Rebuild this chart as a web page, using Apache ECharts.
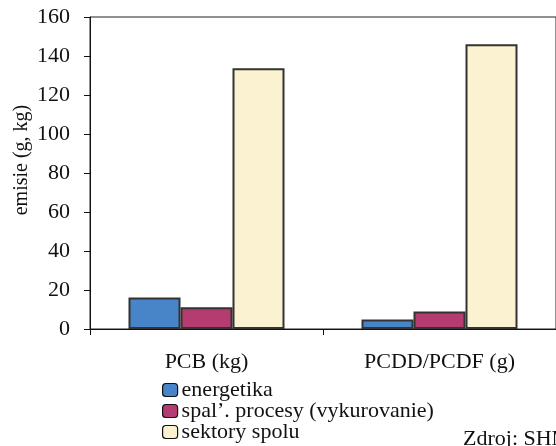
<!DOCTYPE html>
<html>
<head>
<meta charset="utf-8">
<script src="https://cdn.jsdelivr.net/npm/echarts@6/dist/echarts.min.js"></script>
<style>
html,body{margin:0;padding:0;background:#fff;}
#c{width:556px;height:446px;}
</style>
</head>
<body>
<div id="c"></div>
<script>
const categories = ['PCB (kg)', 'PCDD/PCDF (g)'];
const seriesNames = ['energetika', 'spal\u2019. procesy (vykurovanie)', 'sektory spolu'];
const energetika = [16.2, 4.9];
const spalProcesy = [11.1, 9.0];
const sektorySpolu = [133.7, 146.0];
const yTicks = [0, 20, 40, 60, 80, 100, 120, 140, 160];
const colors = ['#4785c8', '#b43c71', '#faf2d0'];
const yTitle = 'emisie (g, kg)';
const sourceText = 'Zdroj: SHMÚ';

const FONT = "'Liberation Serif', 'Times New Roman', serif";
const chart = echarts.init(document.getElementById('c'));
const values = [energetika, spalProcesy, sektorySpolu];
const legendTops = [379, 400, 421];

chart.setOption({
  animation: false,
  textStyle: { fontFamily: FONT, color: '#111' },
  grid: {
    left: 90, right: 0, top: 17, bottom: 117,
    outerBoundsMode: 'none', containLabel: false,
    show: true, borderColor: '#222', borderWidth: 1, backgroundColor: 'transparent'
  },
  legend: seriesNames.map((n, i) => ({
    orient: 'vertical',
    left: 162, top: legendTops[i],
    itemWidth: 15, itemHeight: 13, itemGap: 0, padding: 0,
    textStyle: { fontFamily: FONT, fontSize: 22, color: '#111', padding: [0, 0, 0, -1] },
    itemStyle: { borderWidth: 1.2, borderColor: '#111' },
    data: [n]
  })),
  xAxis: {
    type: 'category',
    data: categories,
    axisLine: { lineStyle: { color: '#111', width: 1 } },
    axisTick: { show: true, length: 6, lineStyle: { color: '#111' } },
    axisLabel: { fontFamily: FONT, fontSize: 22, color: '#111', margin: 22 }
  },
  yAxis: {
    type: 'value',
    min: yTicks[0], max: yTicks[yTicks.length - 1], interval: yTicks[1] - yTicks[0],
    axisLine: { show: true, lineStyle: { color: '#111', width: 1 } },
    axisTick: { show: true, length: 6, lineStyle: { color: '#111' } },
    axisLabel: { fontFamily: FONT, fontSize: 22, color: '#111', margin: 20 },
    splitLine: { show: false }
  },
  series: seriesNames.map((n, i) => ({
    name: n,
    type: 'bar',
    data: values[i],
    barWidth: 52,
    barGap: '0%',
    itemStyle: { color: colors[i], borderColor: '#333', borderWidth: 2 }
  })),
  graphic: [{
    type: 'text',
    x: 22, y: 160,
    rotation: Math.PI / 2,
    style: {
      text: yTitle, x: 0, y: 0, align: 'center', verticalAlign: 'middle',
      font: "20px 'Liberation Serif', 'Times New Roman', serif", fill: '#111'
    }
  }, {
    type: 'text',
    left: 463, top: 428,
    style: { text: sourceText, font: "22px 'Liberation Serif', 'Times New Roman', serif", fill: '#111' }
  }]
});
</script>
</body>
</html>
